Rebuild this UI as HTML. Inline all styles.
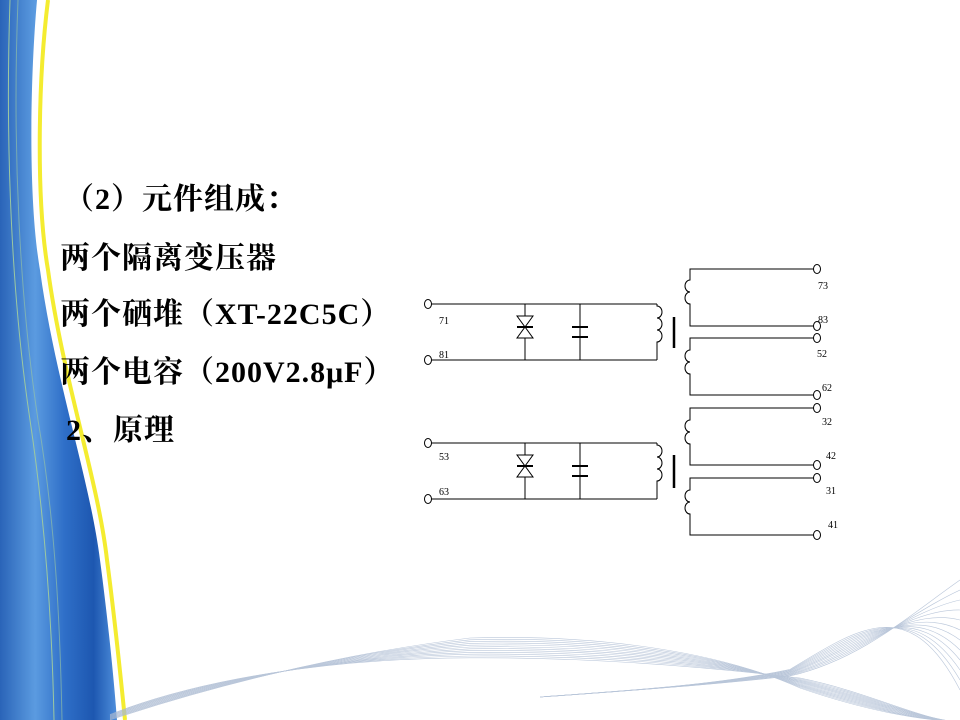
<!DOCTYPE html>
<html><head><meta charset="utf-8"><style>
body{margin:0;width:960px;height:720px;overflow:hidden;background:#fff;position:relative}
.t{position:absolute;font-family:"Liberation Serif","Noto Serif CJK SC",serif;font-weight:bold;font-size:30px;letter-spacing:1px;color:#000;white-space:nowrap;line-height:32px}
svg{position:absolute;left:0;top:0}
</style></head><body>
<svg width="960" height="720" viewBox="0 0 960 720">
<defs>
<linearGradient id="bg" x1="0" x2="1" y1="0" y2="0">
<stop offset="0" stop-color="#2a64b8"/><stop offset="0.3" stop-color="#5b9be0"/><stop offset="0.55" stop-color="#2f6fc8"/><stop offset="0.8" stop-color="#1d57b0"/><stop offset="1" stop-color="#4f8fdc"/>
</linearGradient>
</defs>
<path d="M0 0 L37 0 C30 80 28 200 40 270 C55 380 90 480 100 560 C108 620 114 680 117 720 L0 720 Z" fill="url(#bg)"/>
<path d="M48 0 C38 80 36 200 48 270 C63 380 98 480 107 560 C115 620 121 680 125 720" fill="none" stroke="#f4ec30" stroke-width="4"/>
<path d="M10 0 C5 150 12 300 30 420 C45 520 52 620 54 720" fill="none" stroke="#9cc8a0" stroke-width="1"/>
<path d="M18 0 C12 150 20 300 38 420 C55 520 60 620 62 720" fill="none" stroke="#9cc8a0" stroke-width="1" opacity=".6"/>
<g id="waves" fill="none" stroke="#a8b8d0" stroke-width="0.6" opacity="0.8"></g>
<g stroke="#000" stroke-width="1" fill="none" font-family="Liberation Serif,serif" font-size="10">
<path d="M431 304 H657 M431 360 H657 M525 304 V360 M580 304 V360"/>
<path d="M517 316 H533 L525 327 Z M517 338 H533 L525 327 Z" fill="#fff"/>
<path d="M517 327 H533" stroke-width="2"/>
<path d="M572 327 H588 M572 337 H588" stroke-width="2"/>
<path d="M657 304 V306 a5 6 0 0 1 0 12 a5 6 0 0 1 0 12 a5 6 0 0 1 0 12 V360"/>
<path d="M674 317 V348" stroke-width="2.5"/>
<path d="M431 443 H657 M431 499 H657 M525 443 V499 M580 443 V499"/>
<path d="M517 455 H533 L525 466 Z M517 477 H533 L525 466 Z" fill="#fff"/>
<path d="M517 466 H533" stroke-width="2"/>
<path d="M572 466 H588 M572 476 H588" stroke-width="2"/>
<path d="M657 443 V445 a5 6 0 0 1 0 12 a5 6 0 0 1 0 12 a5 6 0 0 1 0 12 V499"/>
<path d="M674 455 V488" stroke-width="2.5"/>
<path d="M814 269 H690 V280 a5 6 0 0 0 0 12 a5 6 0 0 0 0 12 V326 H814"/>
<path d="M814 338 H690 V350 a5 6 0 0 0 0 12 a5 6 0 0 0 0 12 V395 H814"/>
<path d="M814 408 H690 V420 a5 6 0 0 0 0 12 a5 6 0 0 0 0 12 V465 H814"/>
<path d="M814 478 H690 V490 a5 6 0 0 0 0 12 a5 6 0 0 0 0 12 V535 H814"/>
<g fill="#fff">
<ellipse cx="817" cy="269" rx="3.5" ry="4.5"/><ellipse cx="817" cy="326" rx="3.5" ry="4.5"/>
<ellipse cx="817" cy="338" rx="3.5" ry="4.5"/><ellipse cx="817" cy="395" rx="3.5" ry="4.5"/>
<ellipse cx="817" cy="408" rx="3.5" ry="4.5"/><ellipse cx="817" cy="465" rx="3.5" ry="4.5"/>
<ellipse cx="817" cy="478" rx="3.5" ry="4.5"/><ellipse cx="817" cy="535" rx="3.5" ry="4.5"/>
<ellipse cx="428" cy="304" rx="3.5" ry="4.5"/><ellipse cx="428" cy="360" rx="3.5" ry="4.5"/>
<ellipse cx="428" cy="443" rx="3.5" ry="4.5"/><ellipse cx="428" cy="499" rx="3.5" ry="4.5"/>
</g>
<g fill="#000" stroke="none">
<text x="818" y="289">73</text><text x="818" y="323">83</text><text x="817" y="357">52</text><text x="822" y="391">62</text>
<text x="822" y="425">32</text><text x="826" y="459">42</text><text x="826" y="494">31</text><text x="828" y="528">41</text>
<text x="439" y="324">71</text><text x="439" y="358">81</text><text x="439" y="460">53</text><text x="439" y="495">63</text>
</g>
</g>
</svg>
<div class="t" style="left:64px;top:184px">（2）元件组成：</div>
<div class="t" style="left:60px;top:243px">两个隔离变压器</div>
<div class="t" style="left:60px;top:299px">两个硒堆（XT-22C5C）</div>
<div class="t" style="left:60px;top:357px">两个电容（200V2.8μF）</div>
<div class="t" style="left:66px;top:415px">2、原理</div>
<script>
var g=document.getElementById('waves'),s='';
for(var i=0;i<12;i++){
 var d=i*3;
 s+='<path d="M110 '+(720-i*0.5)+' C200 '+(690-i)+' 330 '+(655+i*0.3)+' 470 '+(638+d*0.6)+' C600 '+(634+d*0.7)+' 720 '+(652+d*0.5)+' 800 '+(688-d*0.3)+' C870 '+(712-d*0.6)+' 920 720 960 722"/>';
 s+='<path d="M540 697 C640 690 720 684 790 '+(676-i*0.6)+' C860 '+(660-i*3)+' 910 '+(615-i*2)+' 960 '+(580+i*10)+'"/>';
}
g.innerHTML=s;
</script>
</body></html>
